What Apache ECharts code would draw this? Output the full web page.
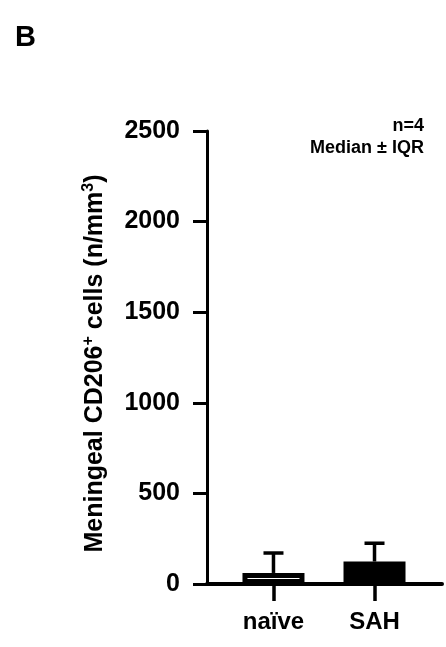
<!DOCTYPE html>
<html>
<head>
<meta charset="utf-8">
<script src="https://cdn.jsdelivr.net/npm/echarts@6/dist/echarts.min.js"></script>
<style>
html,body{margin:0;padding:0;background:#fff;}
#chart{width:446px;height:647px;}
</style>
</head>
<body>
<div id="chart"></div>
<script>
// ---- data ----
var categories = ['naïve', 'SAH'];
var categoryPositions = [1, 2];
var medians = [61, 124];
var upperIQR = [171, 225];
var yTicks = [0, 500, 1000, 1500, 2000, 2500];
var barFills = ['#ffffff', '#000000'];

var FONT = '"Liberation Sans", Arial, sans-serif';

var barData = categoryPositions.map(function (x, i) {
  return {
    value: [x, medians[i]],
    itemStyle: { color: barFills[i], borderColor: '#000', borderWidth: 5 }
  };
});
var errData = categoryPositions.map(function (x, i) {
  return [x, medians[i], upperIQR[i]];
});

var chart = echarts.init(document.getElementById('chart'), null, { renderer: 'canvas' });
chart.setOption({
  animation: false,
  backgroundColor: '#fff',
  textStyle: { fontFamily: FONT },
  grid: { left: 207, right: 4, top: 131, bottom: 63, containLabel: false },
  xAxis: {
    type: 'value',
    min: 0.342,
    max: 2.668,
    splitLine: { show: false },
    axisLine: { show: true, onZero: false, lineStyle: { color: '#000', width: 4 } },
    axisTick: {
      show: true, length: 17, customValues: categoryPositions,
      lineStyle: { color: '#000', width: 3.5 }
    },
    axisLabel: {
      customValues: categoryPositions,
      margin: 26,
      color: '#000',
      fontSize: 24,
      fontWeight: 'bold',
      fontFamily: FONT,
      formatter: function (v) {
        var idx = categoryPositions.indexOf(Math.round(v));
        return idx >= 0 ? categories[idx] : '';
      }
    }
  },
  yAxis: {
    type: 'value',
    min: yTicks[0],
    max: yTicks[yTicks.length - 1],
    interval: 500,
    splitLine: { show: false },
    axisLine: { show: true, lineStyle: { color: '#000', width: 3 } },
    axisTick: { show: true, length: 14, lineStyle: { color: '#000', width: 3 } },
    axisLabel: {
      margin: 27,
      color: '#000',
      fontSize: 25,
      fontWeight: 'bold',
      fontFamily: FONT,
      formatter: function (v) { return String(v); }
    },
    name: 'Meningeal CD206{sup|+} cells (n/mm{sup|3})',
    nameLocation: 'middle',
    nameGap: 97,
    nameRotate: 90,
    nameTextStyle: {
      color: '#000',
      fontSize: 25,
      fontWeight: 'bold',
      fontFamily: FONT,
      lineHeight: 29,
      padding: [0, 12, 0, 0],
      rich: {
        sup: { fontSize: 16, fontWeight: 'bold', fontFamily: FONT, color: '#000', verticalAlign: 'top', lineHeight: 29 }
      }
    }
  },
  series: [
    {
      type: 'bar',
      data: barData,
      barWidth: 62,
      z: 2
    },
    {
      type: 'custom',
      data: errData,
      z: 3,
      renderItem: function (params, api) {
        var x = api.value(0);
        var p0 = api.coord([x, api.value(1)]);
        var p1 = api.coord([x, api.value(2)]);
        var style = { stroke: '#000', lineWidth: 3.5 };
        return {
          type: 'group',
          children: [
            { type: 'line', shape: { x1: p0[0], y1: p0[1], x2: p1[0], y2: p1[1] }, style: style },
            { type: 'line', shape: { x1: p1[0] - 10, y1: p1[1], x2: p1[0] + 10, y2: p1[1] }, style: style }
          ]
        };
      }
    }
  ],
  graphic: [
    { type: 'text', left: 15, top: 23, style: { text: 'B', fill: '#000', font: 'bold 29px ' + FONT } },
    { type: 'text', right: 22, top: 117, style: { text: 'n=4', fill: '#000', font: 'bold 18px ' + FONT, textAlign: 'right' } },
    { type: 'text', right: 22, top: 139, style: { text: 'Median ± IQR', fill: '#000', font: 'bold 18px ' + FONT, textAlign: 'right' } }
  ]
});
</script>
</body>
</html>
